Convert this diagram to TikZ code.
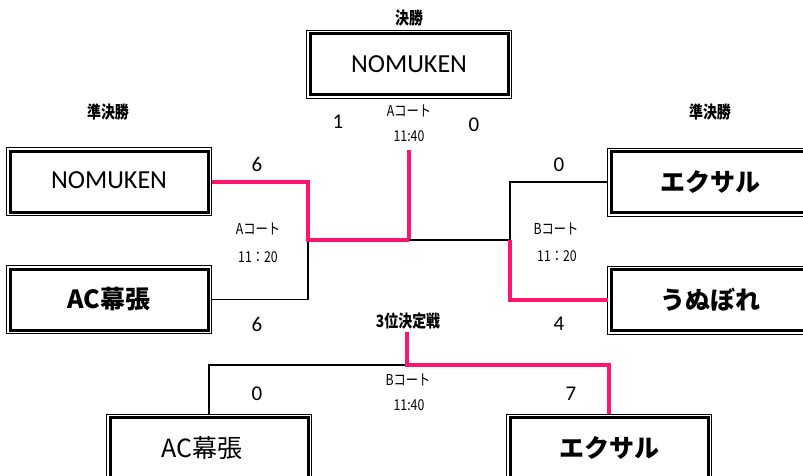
\documentclass[tikz,border=0pt]{standalone}
\usepackage{fontspec}
\setmainfont{Carlito}
\newfontfamily\jp{Noto Sans CJK JP}
\newfontfamily\jpc{Noto Sans CJK JP}[FakeStretch=0.82]
\definecolor{winpink}{RGB}{255,20,110}
\tikzset{
  team/.style={draw, line width=3pt, minimum width=198pt, minimum height=61pt, inner sep=0pt, outer sep=0pt},
  frame/.style={draw, line width=1pt},
  win/.style={draw=winpink, line width=4pt},
  lose/.style={draw=black, line width=1.6pt},
  score/.style={font=\fontsize{21}{24}\selectfont},
  court/.style={font=\jpc\fontsize{15}{17}\selectfont, inner sep=0pt},
  round/.style={font=\jpc\bfseries\fontsize{17}{19}\selectfont, inner sep=0pt},
  latname/.style={font=\fontsize{26}{30}\selectfont},
  jpname/.style={font=\jp\bfseries\fontsize{25}{30}\selectfont},
  jpnamereg/.style={font=\jp\fontsize{25}{30}\selectfont}
}
\newcommand{\teamframe}[1]{\draw[frame] ([xshift=-3.5pt,yshift=3.5pt]#1.north west) rectangle ([xshift=3.5pt,yshift=-3.5pt]#1.south east);}
\begin{document}
\begin{tikzpicture}[x=1pt,y=-1pt]
\clip (0,0) rectangle (803,475);
\fill[white] (0,0) rectangle (803,475);
% team boxes
\node[team, latname] (F) at (409,64) {NOMUKEN};
\node[team, latname] (L1) at (109,181.5) {\raisebox{3pt}{NOMUKEN}};
\node[team, jpname] (L2) at (109,299.5) {AC幕張};
\node[team, jpname] (R1) at (710,182) {エクサル};
\node[team, jpname] (R2) at (710,300) {うぬぼれ};
\node[team, jpnamereg] (B1) at (209,448) {AC幕張\hspace*{14pt}};
\node[team, jpname] (B2) at (609,448) {エクサル};
\teamframe{F}\teamframe{L1}\teamframe{L2}\teamframe{R1}\teamframe{R2}\teamframe{B1}\teamframe{B2}
% junction coordinates
\coordinate (jl) at (308,240);
\coordinate (jc) at (409,240);
\coordinate (jr) at (510,240);
\coordinate (ft) at (409,150);
\coordinate (tt) at (407,332);
\coordinate (tc) at (407,365);
% semifinal left
\draw[lose] ([xshift=3.5pt]L2.east) -| (jl);
\draw[win] ([xshift=3.5pt]L1.east) -| (jl) -- (jc);
\draw[win] (jc) -- (ft);
% semifinal right
\draw[lose] (jc) -- (jr);
\draw[lose] (jr) |- ([xshift=-3.5pt]R1.west);
\draw[win] (jr) |- ([xshift=-3.5pt]R2.west);
% third place
\draw[lose] ([yshift=3.5pt]B1.north) |- (tc);
\draw[win] (tt) -- (tc) -| ([yshift=3.5pt]B2.north);
% round titles
\node[round] (tf) at (409,18) {決勝};
\node[round] (tsl) at (108,112) {準決勝};
\node[round] (tsr) at (710,112) {準決勝};
\node[round] (t3) at (408,321) {3位決定戦};
% scores
\node[score] (s1) at (338,122) {1};
\node[score] (s2) at (474,125) {0};
\node[score] (s3) at (257,164) {6};
\node[score] (s4) at (257,324) {6};
\node[score] (s5) at (559,165) {0};
\node[score] (s6) at (559,324) {4};
\node[score] (s7) at (257,394) {0};
\node[score] (s8) at (571,394) {7};
% courts
\node[court] (c1) at (409,111) {Aコート};
\node[court] (c2) at (409,136) {11:40};
\node[court] (c3) at (258,229) {Aコート};
\node[court] (c4) at (258,257) {11：20};
\node[court] (c5) at (556,229) {Bコート};
\node[court] (c6) at (557,256) {11：20};
\node[court] (c7) at (408,380) {Bコート};
\node[court] (c8) at (409,405) {11:40};
\end{tikzpicture}
\end{document}
